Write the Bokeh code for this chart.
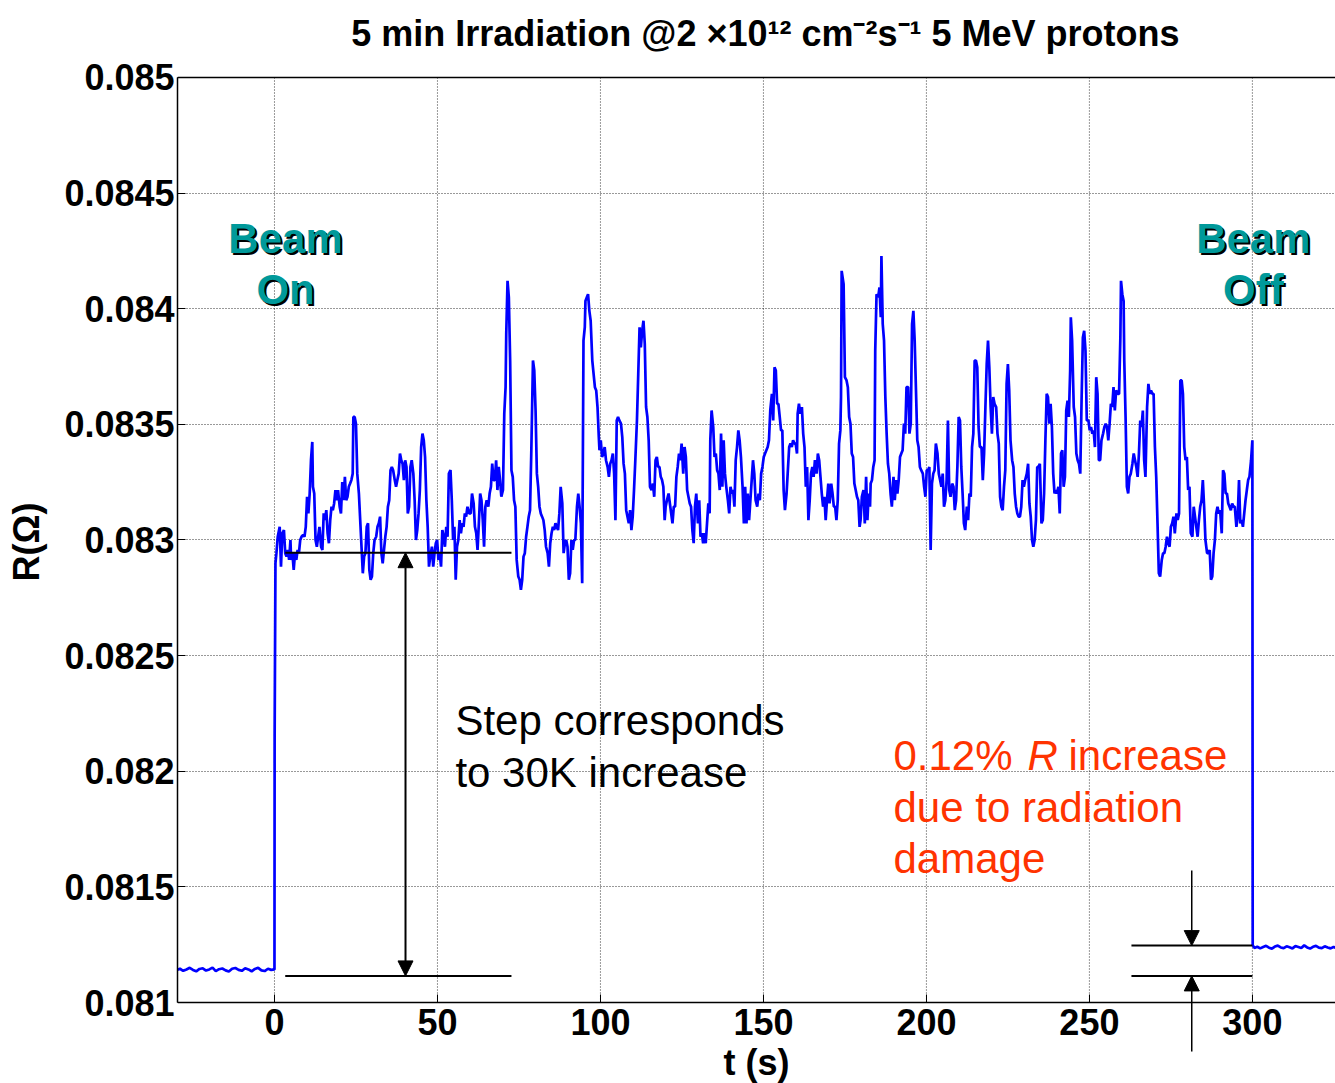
from bokeh.plotting import figure
from bokeh.models import Range1d, FixedTicker, NumeralTickFormatter, Label, Arrow, NormalHead
from bokeh.embed import file_html
from bokeh.resources import INLINE

FONT = "Liberation Sans"

# ---------------- data (R in micro-ohm, t in s) ----------------
pre_t = [-30, -29, -28, -27, -26, -25, -24, -23, -22, -21, -20, -19, -18, -17, -16, -15,
         -14, -13, -12, -11, -10, -9, -8, -7, -6, -5, -4, -3, -2, -1, 0]
pre_R = [81140, 81146, 81137, 81143, 81150, 81141, 81135, 81145, 81148, 81138, 81143, 81151,
         81136, 81144, 81147, 81139, 81134, 81146, 81149, 81141, 81137, 81148, 81143, 81135,
         81145, 81150, 81139, 81136, 81146, 81141, 81143]

rise_t = [0.05, 0.3]
rise_R = [82150, 82900]

a_t = [0.6, 1.0, 1.6, 2.0, 2.4, 2.9, 3.3, 3.7, 4.1, 4.5,
       4.9, 5.1, 5.5, 5.9, 6.3, 6.7, 7.1, 7.5, 7.9, 8.3,
       8.8, 9.2, 9.6, 10.0, 10.4, 10.8, 11.2, 11.6, 11.8, 12.2,
       12.6, 13.0, 13.4, 13.8, 14.3, 14.7, 15.1, 15.5, 15.9, 16.3,
       16.7, 17.1, 17.5, 17.9, 18.3, 18.7, 19.1, 19.5, 20.0, 20.4,
       20.8, 21.2, 21.6, 22.0, 22.4, 22.8, 23.2, 23.6, 24.0, 24.2,
       24.6, 25.0, 25.4, 25.9, 26.3, 26.7, 27.1, 27.5, 27.9, 28.3,
       28.7, 29.1, 29.5, 29.9, 30.3, 30.7, 31.2, 31.6, 32.0, 32.4,
       32.8, 33.2, 33.6, 34.0, 34.4, 34.8, 35.2, 35.6, 36.0, 36.4,
       36.9, 37.3, 37.7, 38.1, 38.5, 38.9, 39.3, 39.7, 40.1, 40.5,
       40.9, 41.3, 41.7, 42.1, 42.6, 43.0, 43.4, 43.8, 44.2, 44.6,
       45.0, 45.4, 45.8, 46.2, 46.6, 47.0, 47.4, 47.8, 48.3, 48.7,
       49.1, 49.5, 49.9, 50.3, 50.7, 51.1, 51.5, 51.9, 52.3, 52.7,
       53.1, 53.5, 54.0, 54.4, 54.8, 55.2, 55.6, 56.0, 56.4, 56.8,
       57.2, 57.6, 58.0, 58.4, 58.8, 59.2, 59.7]
a_R = [82943, 83014, 83057, 82885, 83029, 83043, 82943, 82928, 82957, 82914,
       83000, 82914, 82943, 82871, 82943, 82914, 82957, 82943, 83000, 83014,
       83022, 83014, 83057, 83187, 83115, 83201, 83345, 83424, 83230, 83201,
       83000, 82971, 83014, 83057, 82971, 82957, 83115, 83086, 83129, 83029,
       82986, 83086, 83144, 83129, 83158, 83216, 83172, 83216, 83144, 83115,
       83251, 83172, 83273, 83172, 83187, 83230, 83244, 83259, 83287, 83532,
       83532, 83503, 83287, 83201, 83086, 82971, 82856, 82928, 82943, 83057,
       83072, 82871, 82828, 82842, 82943, 83000, 83014, 83057, 83072, 83101,
       82943, 82899, 82957, 83014, 83057, 83144, 83172, 83302, 83316, 83302,
       83259, 83230, 83259, 83287, 83374, 83345, 83330, 83259, 83345, 83316,
       83115, 83144, 83316, 83345, 83287, 83172, 83000, 83043, 83115, 83216,
       83402, 83460, 83431, 83359, 83172, 83057, 82885, 82928, 82971, 82885,
       82943, 82986, 83000, 82914, 82943, 82885, 83043, 83014, 82971, 83057,
       83014, 83287, 83302, 83172, 83000, 83057, 82828, 82971, 83000, 83086,
       83029, 83072, 83057, 83115, 83101, 83144, 83115]

b_t = [60.2, 60.6, 61.1, 61.5, 61.9, 62.3, 62.7, 63.1, 63.5, 63.9,
       64.3, 64.7, 65.1, 65.6, 66.0, 66.4, 66.8, 67.2, 67.6, 68.0,
       68.4, 68.8, 69.2, 69.6, 70.1, 70.5, 70.9, 71.1, 71.5, 71.9,
       72.3, 72.7, 73.1, 73.5, 73.9, 74.3, 74.8, 75.2, 75.6, 76.0,
       76.4, 76.8, 77.2, 77.6, 78.0, 78.4, 78.8, 79.3, 79.7, 80.1,
       80.5, 80.9, 81.3, 81.7, 82.1, 82.5, 82.9, 83.3, 83.8, 84.2,
       84.6, 85.0, 85.4, 85.8, 86.2, 86.6, 87.0, 87.4, 87.8, 88.3,
       88.7, 89.1, 89.5, 89.9, 90.3, 90.7, 91.1, 91.5, 91.9, 92.3,
       92.8, 93.2, 93.6, 94.0, 94.4, 94.8, 95.2, 95.4, 95.8, 96.2,
       96.6, 97.0, 97.5, 97.9, 98.3, 98.7, 99.1, 99.5, 99.7, 100.1,
       100.5, 100.9, 101.3, 101.7, 102.2, 102.6, 103.0, 103.4, 103.8, 104.2,
       104.6, 105.0, 105.4, 105.8, 106.3, 106.7, 107.1, 107.5, 107.9, 108.3,
       108.7, 109.1, 109.5, 109.9, 110.3, 110.7, 111.2, 111.6, 112.0, 112.4,
       112.8, 113.2, 113.6, 114.0, 114.4, 114.8, 115.2, 115.7, 116.1, 116.5,
       116.9, 117.3, 117.7, 118.1, 118.5, 118.9, 119.3, 119.7]
b_R = [83115, 83201, 83158, 83057, 83029, 82957, 83072, 83201, 83172, 83086,
       82971, 83144, 83172, 83144, 83201, 83230, 83330, 83259, 83259, 83345,
       83216, 83316, 83259, 83187, 83216, 83546, 83661, 83891, 84121, 84049,
       83776, 83302, 83273, 83172, 83144, 82914, 82842, 82828, 82784, 82828,
       82928, 82943, 83014, 83057, 83101, 83129, 83388, 83776, 83733, 83560,
       83287, 83230, 83144, 83115, 83101, 83086, 83043, 82971, 82943, 82885,
       82986, 83029, 83057, 83043, 83072, 83057, 83043, 83115, 83230, 83158,
       82943, 82986, 83000, 82971, 82828, 82856, 83000, 82957, 83000, 83000,
       83144, 83201, 83144, 83072, 82813, 83862, 83920, 84034, 84049, 84063,
       83991, 83948, 83776, 83718, 83661, 83647, 83575, 83445, 83388, 83431,
       83359, 83374, 83402, 83345, 83316, 83273, 83330, 83345, 83374, 83287,
       83086, 83517, 83532, 83517, 83503, 83445, 83330, 83287, 83129, 83101,
       83072, 83129, 83043, 83101, 83216, 83345, 83517, 83718, 83920, 83833,
       83905, 83948, 83848, 83575, 83532, 83431, 83230, 83216, 83244, 83187,
       83345, 83359, 83316, 83316, 83273, 83259, 83230, 83086]

c_t = [120.0, 120.4, 120.9, 121.3, 121.7, 122.1, 122.5, 122.9, 123.3, 123.7,
       124.1, 124.5, 124.9, 125.4, 125.8, 126.2, 126.6, 127.0, 127.4, 127.8,
       128.2, 128.6, 129.0, 129.4, 129.9, 130.3, 130.7, 131.1, 131.5, 131.9,
       132.3, 132.7, 133.1, 133.5, 133.7, 134.1, 134.6, 135.0, 135.4, 135.8,
       136.2, 136.6, 137.0, 137.4, 137.8, 138.2, 138.6, 139.1, 139.5, 139.9,
       140.3, 140.7, 141.1, 141.5, 141.9, 142.3, 142.7, 143.1, 143.6, 144.0,
       144.4, 144.8, 145.2, 145.6, 146.0, 146.4, 146.8, 147.2, 147.6, 148.1,
       148.5, 148.9, 149.3, 149.7, 150.1, 150.5, 150.9, 151.3, 151.7, 152.1,
       152.6, 153.0, 153.4, 153.8, 154.2, 154.6, 155.0, 155.4, 155.8, 156.2,
       156.6, 157.1, 157.5, 157.9, 158.3, 158.7, 159.1, 159.5, 159.9, 160.3,
       160.5, 160.9, 161.3, 161.8, 162.2, 162.6, 163.0, 163.4, 163.8, 164.2,
       164.6, 165.0, 165.4, 165.8, 166.3, 166.7, 167.1, 167.5, 167.9, 168.3,
       168.7, 169.1, 169.5, 169.9, 170.3, 170.8, 171.2, 171.6, 172.0, 172.4,
       172.8, 173.2, 173.6, 173.8, 174.0, 174.6, 175.0, 175.5, 175.9, 176.3,
       176.7, 177.1, 177.5, 177.9, 178.3, 178.7, 179.1, 179.5]
c_R = [83144, 83172, 83201, 83158, 83115, 83072, 83144, 83144, 83273, 83316,
       83374, 83345, 83417, 83287, 83402, 83359, 83216, 83187, 83158, 83144,
       83043, 82986, 83144, 83201, 83072, 83172, 83014, 83029, 82986, 83029,
       82986, 83072, 83158, 83115, 83431, 83560, 83489, 83359, 83374, 83302,
       83287, 83216, 83460, 83230, 83431, 83287, 83230, 83172, 83115, 83230,
       83201, 83216, 83144, 83345, 83402, 83474, 83431, 83359, 83230, 83072,
       83230, 83072, 83201, 83086, 83172, 83259, 83345, 83287, 83172, 83144,
       83201, 83172, 83287, 83316, 83359, 83374, 83388, 83402, 83431, 83560,
       83632, 83517, 83747, 83733, 83589, 83589, 83532, 83474, 83474, 83216,
       83129, 83201, 83302, 83402, 83417, 83402, 83431, 83417, 83417, 83374,
       83546, 83589, 83546, 83575, 83460, 83402, 83230, 83316, 83086, 83172,
       83287, 83316, 83273, 83345, 83287, 83374, 83345, 83273, 83201, 83144,
       83187, 83086, 83172, 83244, 83158, 83244, 83201, 83144, 83144, 83086,
       83172, 83417, 83474, 83618, 84164, 84106, 83704, 83690, 83661, 83532,
       83503, 83374, 83359, 83244, 83216, 83187, 83172, 83057]

d_t = [179.8, 180.2, 180.7, 181.1, 181.5, 181.9, 182.3, 182.7, 182.9, 183.3,
       183.7, 184.1, 184.3, 184.7, 185.2, 185.6, 186.0, 186.2, 186.6, 187.0,
       187.4, 187.8, 188.2, 188.6, 189.0, 189.4, 189.9, 190.3, 190.7, 191.1,
       191.5, 191.9, 192.3, 192.7, 193.1, 193.5, 193.9, 194.4, 194.8, 195.2,
       195.6, 196.0, 196.4, 196.8, 197.2, 197.6, 198.0, 198.4, 198.9, 199.3,
       199.7, 200.1, 200.5, 200.9, 201.3, 201.7, 202.1, 202.5, 202.9, 203.4,
       203.8, 204.2, 204.6, 205.0, 205.4, 205.8, 206.2, 206.6, 207.0, 207.4,
       207.9, 208.3, 208.7, 209.1, 209.5, 209.9, 210.3, 210.7, 211.1, 211.5,
       211.9, 212.4, 212.8, 213.2, 213.6, 214.0, 214.4, 214.8, 215.2, 215.6,
       216.0, 216.4, 216.9, 217.3, 217.7, 218.1, 218.5, 218.9, 219.3, 219.7,
       220.1, 220.5, 220.9, 221.4, 221.8, 222.2, 222.6, 223.0, 223.4, 223.8,
       224.2, 224.6, 225.0, 225.4, 225.8, 226.3, 226.7, 227.1, 227.5, 227.9,
       228.3, 228.7, 229.1, 229.5, 229.9, 230.3, 230.8, 231.2, 231.6, 232.0,
       232.4, 232.8, 233.2, 233.6, 234.0, 234.4, 234.8, 235.3, 235.7, 236.1,
       236.5, 236.9, 237.3, 237.7, 238.1, 238.5, 238.9, 239.3]
d_R = [83086, 83187, 83216, 83072, 83273, 83086, 83201, 83144, 83244, 83259,
       83316, 83345, 83819, 84063, 84049, 84092, 83963, 84228, 83934, 83862,
       83618, 83460, 83330, 83287, 83201, 83144, 83273, 83172, 83259, 83201,
       83259, 83359, 83374, 83388, 83503, 83460, 83661, 83661, 83460, 83503,
       83934, 83991, 83862, 83647, 83431, 83402, 83316, 83302, 83287, 83230,
       83187, 83302, 83302, 83316, 82957, 83244, 83287, 83302, 83417, 83374,
       83287, 83259, 83230, 83287, 83144, 83172, 83259, 83517, 83216, 83187,
       83244, 83230, 83129, 83172, 83316, 83532, 83517, 83316, 83201, 83072,
       83043, 83144, 83086, 83201, 83187, 83402, 83460, 83776, 83776, 83747,
       83489, 83402, 83402, 83259, 83374, 83575, 83761, 83862, 83747, 83575,
       83460, 83618, 83589, 83575, 83460, 83417, 83187, 83144, 83129, 83230,
       83302, 83675, 83761, 83647, 83431, 83345, 83316, 83201, 83144, 83115,
       83101, 83101, 83144, 83259, 83230, 83259, 83287, 83330, 83158, 83101,
       83000, 82971, 83000, 83086, 83316, 83316, 83330, 83072, 83086, 83201,
       83431, 83632, 83618, 83503, 83589, 83489, 83287, 83201]

e_t = [239.6, 240.0, 240.5, 240.9, 241.3, 241.7, 242.1, 242.5, 242.9, 243.3,
       243.7, 244.1, 244.3, 244.7, 245.2, 245.6, 246.0, 246.4, 246.8, 247.2,
       247.6, 248.0, 248.4, 248.8, 249.2, 249.7, 250.1, 250.5, 250.9, 251.3,
       251.7, 252.1, 252.5, 252.9, 253.3, 253.7, 254.2, 254.6, 255.0, 255.4,
       255.8, 256.2, 256.6, 257.0, 257.4, 257.8, 258.2, 258.7, 259.1, 259.5,
       259.7, 260.1, 260.5, 260.7, 261.1, 261.5, 261.9, 262.3, 262.7, 263.2,
       263.6, 264.0, 264.4, 264.8, 265.2, 265.6, 266.0, 266.4, 266.8, 267.2,
       267.7, 268.1, 268.5, 268.9, 269.3, 269.7, 270.1, 270.5, 270.9, 271.3,
       271.7, 272.2, 272.6, 273.0, 273.4, 273.8, 274.2, 274.6, 275.0, 275.4,
       275.8, 276.2, 276.7, 277.1, 277.5, 277.9, 278.3, 278.7, 279.1, 279.5,
       279.9, 280.3, 280.7, 281.1, 281.6, 282.0, 282.4, 282.8, 283.2, 283.6,
       284.0, 284.4, 284.8, 285.2, 285.6, 286.1, 286.5, 286.9, 287.3, 287.7,
       288.1, 288.5, 288.9, 289.3, 289.7, 290.1, 290.6, 291.0, 291.4, 291.8,
       292.2, 292.6, 293.0, 293.4, 293.8, 294.2, 294.6, 295.1, 295.5, 295.9,
       296.3, 296.7, 297.1, 297.5, 297.9, 298.3, 298.7, 299.1, 299.6, 300.0]
e_R = [83216, 83201, 83230, 83115, 83374, 83388, 83230, 83273, 83560, 83603,
       83532, 83733, 83963, 83862, 83575, 83532, 83374, 83345, 83330, 83287,
       83603, 83876, 83905, 83819, 83517, 83517, 83474, 83489, 83460, 83474,
       83402, 83704, 83632, 83345, 83345, 83431, 83460, 83489, 83503, 83489,
       83431, 83503, 83589, 83575, 83661, 83560, 83647, 83632, 83632, 83876,
       84121, 84063, 84034, 83776, 83532, 83230, 83201, 83273, 83287, 83330,
       83374, 83345, 83316, 83273, 83374, 83517, 83489, 83560, 83345, 83273,
       83575, 83675, 83632, 83647, 83632, 83632, 83402, 83273, 83072, 82856,
       82842, 82914, 82943, 82943, 82971, 83014, 82986, 82971, 83057, 83072,
       83101, 83029, 83115, 83086, 83115, 83690, 83690, 83632, 83402, 83345,
       83359, 83216, 83230, 83029, 83014, 83144, 83101, 83057, 83014, 83086,
       83144, 83172, 83259, 83144, 83000, 82943, 82943, 82957, 82828, 82842,
       82943, 83000, 83115, 83144, 83115, 83129, 83029, 83302, 83287, 83201,
       83201, 83158, 83144, 83129, 83158, 83144, 83144, 83057, 83101, 83259,
       83072, 83086, 83057, 83115, 83172, 83216, 83259, 83273, 83345, 83431]

post_t = [300.1, 300.6, 301.5, 302.4, 303.3, 304.2, 305.1, 306.0, 306.9, 307.8,
          308.7, 309.6, 310.5, 311.4, 312.3, 313.2, 314.1, 315.0, 315.9, 316.8,
          317.7, 318.6, 319.5, 320.4, 321.3, 322.2, 323.1, 324.0, 324.9, 325.5]
post_R = [81248, 81236, 81241, 81234, 81240, 81245, 81237, 81233, 81242, 81246,
          81238, 81235, 81243, 81239, 81234, 81244, 81240, 81236, 81247, 81238,
          81233, 81241, 81245, 81237, 81235, 81243, 81238, 81234, 81240, 81237]

# annotation levels (ohm) and extents (s)
level_pre = 0.081115
level_on = 0.082945
level_post = 0.081246
step_span = [3.3, 72.7]
damage_span = [262.9, 300.0]
step_arrow_t = 40.2
damage_arrow_t = 281.4

x_ticks = [0, 50, 100, 150, 200, 250, 300]
y_ticks = [0.081, 0.0815, 0.082, 0.0825, 0.083, 0.0835, 0.084, 0.0845, 0.085]
y_min, y_max = 0.081, 0.085
x_min, x_max = -29.75, 325.5

t_all = pre_t + rise_t + a_t + b_t + c_t + d_t + e_t + post_t
r_all = [v / 1e6 for v in pre_R + rise_R + a_R + b_R + c_R + d_R + e_R + post_R]

TITLE = "5 min Irradiation @2 \u00d710\u00b9\u00b2 cm\u207b\u00b2s\u207b\u00b9 5 MeV protons"

# ---------------- figure ----------------
# The frame covers the full canvas height so that the title and the lower damage
# arrow (which continues below the time axis) are not clipped; the time axis is
# pinned at R = 0.081 and the R axis is bounded to 0.081..0.085.
p = figure(width=1335, height=1083, output_backend="svg", toolbar_location=None,
           x_range=Range1d(x_min, x_max), y_range=Range1d(0.08064973, 0.08533297),
           min_border_left=177, min_border_right=0, min_border_top=0, min_border_bottom=0)
p.background_fill_color = "white"
p.border_fill_color = "white"
p.outline_line_color = None

p.xaxis.ticker = FixedTicker(ticks=x_ticks)
p.yaxis.ticker = FixedTicker(ticks=y_ticks)
p.yaxis.formatter = NumeralTickFormatter(format="0.0[000]")
p.xaxis.fixed_location = y_min
p.yaxis.bounds = (y_min, y_max)
for ax in p.axis:
    ax.major_label_text_font = FONT
    ax.major_label_text_font_style = "bold"
    ax.major_label_text_font_size = "36px"
    ax.major_label_text_color = "black"
    ax.axis_label_text_font = FONT
    ax.axis_label_text_font_style = "bold"
    ax.axis_label_text_font_size = "36px"
    ax.axis_label_text_color = "black"
    ax.axis_line_color = "black"
    ax.axis_line_width = 1.5
    ax.major_tick_in = 8
    ax.major_tick_out = 0
    ax.major_tick_line_color = "black"
    ax.minor_tick_line_color = None
p.xaxis.axis_label = "t (s)"
p.xaxis.major_label_standoff = 6
p.xaxis.axis_label_standoff = 4
p.yaxis.axis_label = "R(\u03a9)"
p.yaxis.major_label_standoff = 3
p.yaxis.axis_label_standoff = 14

GRID = dict(line_color="black", line_dash="1 2", line_width=1, line_alpha=0.8)
p.xgrid.visible = False
p.ygrid.grid_line_color = "black"
p.ygrid.grid_line_dash = "1 2"
p.ygrid.grid_line_width = 1
p.ygrid.grid_line_alpha = 0.8
# vertical grid lines only between the axis and the top border
p.segment(x0=x_ticks, y0=[y_min] * len(x_ticks), x1=x_ticks, y1=[y_max] * len(x_ticks), **GRID)
# top border of the plot box
p.segment(x0=[x_min], y0=[y_max], x1=[x_max], y1=[y_max], line_color="black", line_width=1.5)

p.line(t_all, r_all, line_color="#0000FF", line_width=2.7)

# title
p.add_layout(Label(x=150.6, y=0.0851903, text=TITLE, text_font=FONT, text_font_style="bold",
                   text_font_size="36px", text_color="black", text_align="center",
                   text_baseline="middle"))

# step and damage marker lines
p.segment(x0=[step_span[0], step_span[0], damage_span[0], damage_span[0]],
          y0=[level_on, level_pre, level_post, level_pre],
          x1=[step_span[1], step_span[1], damage_span[1], damage_span[1]],
          y1=[level_on, level_pre, level_post, level_pre],
          line_color="black", line_width=2)

def head():
    return NormalHead(size=15, fill_color="black", line_color="black", line_width=1)

p.add_layout(Arrow(start=head(), end=head(), x_start=step_arrow_t, y_start=level_on,
                   x_end=step_arrow_t, y_end=level_pre, line_color="black", line_width=2))
p.add_layout(Arrow(end=head(), x_start=damage_arrow_t, y_start=0.081571,
                   x_end=damage_arrow_t, y_end=level_post, line_color="black", line_width=1.5))
p.add_layout(Arrow(end=head(), x_start=damage_arrow_t, y_start=0.080788,
                   x_end=damage_arrow_t, y_end=level_pre, line_color="black", line_width=1.5))

# Beam On / Beam Off (with shadow)
TEAL = "#00999A"
for tx, ty, txt in [(3.4, 0.084304, "Beam"), (3.4, 0.084083, "On"),
                    (300.3, 0.084304, "Beam"), (300.3, 0.084083, "Off")]:
    p.add_layout(Label(x=tx, y=ty, text=txt, text_font=FONT, text_font_style="bold",
                       text_font_size="42px", text_color="black", text_align="center",
                       text_baseline="middle", x_offset=2, y_offset=-2))
    p.add_layout(Label(x=tx, y=ty, text=txt, text_font=FONT, text_font_style="bold",
                       text_font_size="42px", text_color=TEAL, text_align="center",
                       text_baseline="middle"))

for ty, txt in [(0.0822195, "Step corresponds"), (0.0819946, "to 30K increase")]:
    p.add_layout(Label(x=55.5, y=ty, text=txt, text_font=FONT, text_font_size="42px",
                       text_color="black", text_align="left", text_baseline="middle"))

ORANGE = "#FF3300"
p.add_layout(Label(x=189.9, y=0.0820681, text="0.12%", text_font=FONT, text_font_size="42px",
                   text_color=ORANGE, text_baseline="middle"))
p.add_layout(Label(x=189.9, y=0.0820681, text="R", text_font=FONT, text_font_size="42px",
                   text_font_style="italic", text_color=ORANGE, text_baseline="middle",
                   x_offset=134))
p.add_layout(Label(x=189.9, y=0.0820681, text="increase", text_font=FONT, text_font_size="42px",
                   text_color=ORANGE, text_baseline="middle", x_offset=175))
p.add_layout(Label(x=189.9, y=0.0818432, text="due to radiation", text_font=FONT,
                   text_font_size="42px", text_color=ORANGE, text_baseline="middle"))
p.add_layout(Label(x=189.9, y=0.0816227, text="damage", text_font=FONT,
                   text_font_size="42px", text_color=ORANGE, text_baseline="middle"))

open("out.html", "w").write(file_html(p, INLINE))
